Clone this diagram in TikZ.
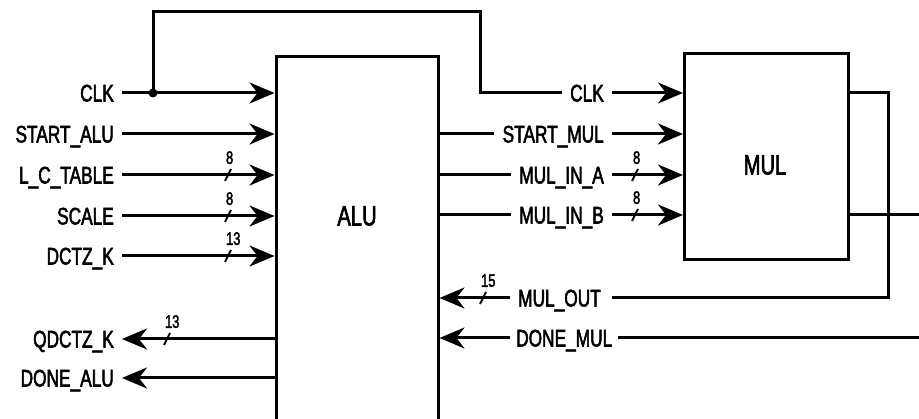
\documentclass[tikz,border=0pt]{standalone}
\usepackage{fontspec}
\setmainfont{Liberation Sans}[FakeStretch=0.72, FakeBold=2.2]
\usetikzlibrary{arrows.meta, calc}

\begin{document}
\begin{tikzpicture}[x=1pt, y=-1pt,
    % Define the styles for the blocks, wires and labels
    wire/.style={line width=3pt},
    sig/.style={wire, -{Stealth[length=25pt, width=21pt, inset=8pt]}},
    block/.style={draw, line width=3pt, inner sep=0pt},
    blockname/.style={font=\fontsize{28}{28}\selectfont, inner sep=0pt},
    signame/.style={font=\fontsize{24}{24}\selectfont, inner xsep=8pt, inner ysep=0pt,
        text height=17pt, text depth=0pt},
    buswidth/.style={font=\fontsize{18}{18}\selectfont, inner sep=0pt,
        anchor=south west, xshift=-6pt, yshift=4pt},
    busmark/.style={line width=2pt}
]
\useasboundingbox (0,0) rectangle (919,419);
\clip (0,0) rectangle (919,419);

% Define the blocks
\node[block, minimum width=162pt, minimum height=380pt, anchor=north] (alu) at (357,55) {};
\node[blockname] (alutxt) at (357,216) {ALU};
\node[block, minimum width=164pt, minimum height=206pt, anchor=north west] (mul) at (683,52) {};
\node[blockname] (multxt) at (765,165) {MUL};

% Define the helper points
\coordinate (tap) at (153,93);
\coordinate (bend) at (480,12);
\coordinate (moup) at (888,0);
\coordinate (moend) at (612,298);
\coordinate (rim) at (925,0);

% Add the ALU signal labels
\node[signame, anchor=east] (clkin) at (122,93) {CLK};
\node[signame, anchor=east] (startalu) at (122,134) {START\_ALU};
\node[signame, anchor=east] (lct) at (122,175) {L\_C\_TABLE};
\node[signame, anchor=east] (scale) at (122,216) {SCALE};
\node[signame, anchor=east] (dctz) at (122,256) {DCTZ\_K};
\node[signame, anchor=east] (qdctz) at (122,339) {QDCTZ\_K};
\node[signame, anchor=east] (donealu) at (122,378) {DONE\_ALU};

% Add the MUL signal labels
\node[signame, anchor=east] (clkmul) at (612,93) {CLK};
\node[signame, anchor=east] (startmul) at (612,134) {START\_MUL};
\node[signame, anchor=east] (mulina) at (612,175) {MUL\_IN\_A};
\node[signame, anchor=east] (mulinb) at (612,215) {MUL\_IN\_B};
\node[signame, anchor=west] (mulout) at (510,298) {MUL\_OUT};
\node[signame, anchor=west, inner xsep=6pt] (donemul) at (510,338) {DONE\_MUL};

% Draw the ALU inputs and outputs
\draw[sig] (clkin.east) -- (clkin.east -| alu.west);
\draw[sig] (startalu.east) -- (startalu.east -| alu.west);
\draw[sig] (lct.east) -- (lct.east -| alu.west);
\draw[sig] (scale.east) -- (scale.east -| alu.west);
\draw[sig] (dctz.east) -- (dctz.east -| alu.west);
\draw[sig] (qdctz.east -| alu.west) -- (qdctz.east);
\draw[sig] (donealu.east -| alu.west) -- (donealu.east);

% Draw the clock route
\fill (tap) circle (4.5);
\draw[wire] (tap) |- (bend) |- (clkmul.west);
\draw[sig] (clkmul.east) -- (clkmul.east -| mul.west);

% Draw the wires between ALU and MUL
\draw[wire] (startmul.west -| alu.east) -- (startmul.west);
\draw[sig] (startmul.east) -- (startmul.east -| mul.west);
\draw[wire] (mulina.west -| alu.east) -- (mulina.west);
\draw[sig] (mulina.east) -- (mulina.east -| mul.west);
\draw[wire] (mulinb.west -| alu.east) -- (mulinb.west);
\draw[sig] (mulinb.east) -- (mulinb.east -| mul.west);
\draw[sig] (mulout.west) -- (mulout.west -| alu.east);
\draw[wire] (clkmul.east -| mul.east) -- (clkmul.east -| moup) |- (moend);
\draw[sig] (donemul.west) -- (donemul.west -| alu.east);
\draw[wire] (donemul.east) -- (donemul.east -| rim);
\draw[wire] (mulinb.east -| mul.east) -- (mulinb.east -| rim);

% Mark the bus widths
\coordinate (lcts) at (228,175);
\coordinate (scs) at (228,216);
\coordinate (dcts) at (228,256);
\coordinate (qds) at (167,339);
\coordinate (mas) at (635,175);
\coordinate (mbs) at (635,215);
\coordinate (mos) at (483,298);
\foreach \p/\w in {lcts/8, scs/8, dcts/13, qds/13, mas/8, mbs/8, mos/15}
    \draw[busmark] ($(\p)+(-3,6)$) -- ($(\p)+(3,-6)$) node[buswidth] {\w};

\end{tikzpicture}
\end{document}
